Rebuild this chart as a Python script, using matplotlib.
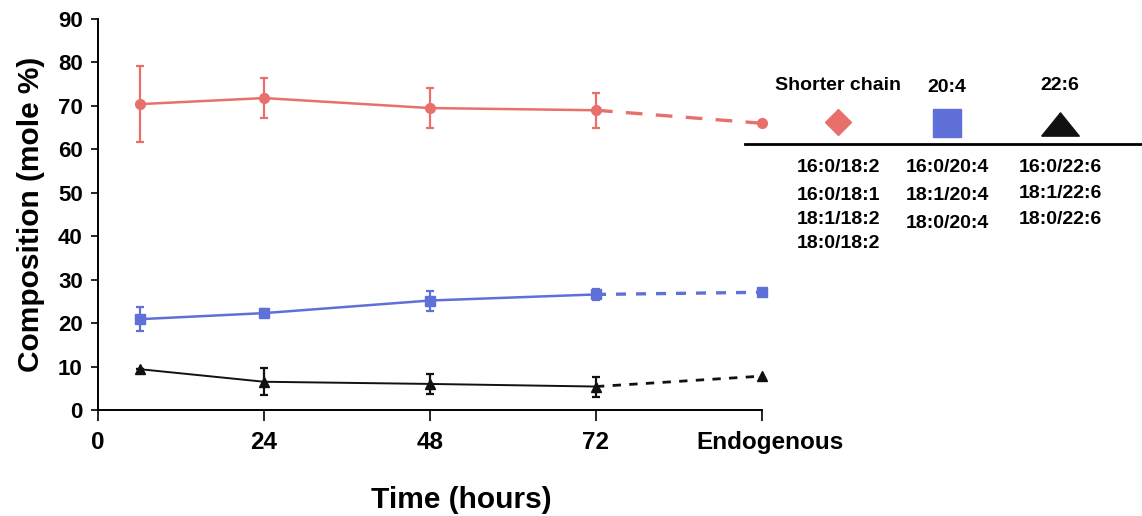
#!/usr/bin/env python3
# composition_time.py

import matplotlib
matplotlib.use("Agg")
import matplotlib.pyplot as plt
from matplotlib.lines import Line2D
from matplotlib.transforms import ScaledTranslation

plt.rcParams["font.family"] = ["Liberation Sans", "DejaVu Sans"]
plt.rcParams["font.weight"] = "bold"

# time points (hours) and the endogenous position on the x axis
hours = [6, 24, 48, 72]
endo_pos = 96
xtick_pos = [0, 24, 48, 72, 96]
xtick_labels = ["0", "24", "48", "72", "Endogenous"]

# mole % values
shorter = [70.4, 71.8, 69.5, 69.0]
shorter_err = [8.7, 4.6, 4.7, 4.0]
shorter_endo = 66.0

aa = [20.9, 22.3, 25.2, 26.6]
aa_err = [2.8, 1.0, 2.3, 1.2]
aa_endo = 27.1

dha = [9.4, 6.5, 6.0, 5.4]
dha_err = [0.0, 3.1, 2.4, 2.3]
dha_endo = 7.8

legend_heads = ["Shorter chain", "20:4", "22:6"]
legend_species = [
    ["16:0/18:2", "16:0/18:1", "18:1/18:2", "18:0/18:2"],
    ["16:0/20:4", "18:1/20:4", "18:0/20:4"],
    ["16:0/22:6", "18:1/22:6", "18:0/22:6"],
]

RED = "#e8706c"
BLUE = "#5f70d8"
BLACK = "#111111"

W, H = 1142, 516

# squat triangle like the one in the key
FLAT_TRI = [(-1, -0.62), (1, -0.62), (0, 0.62), (-1, -0.62)]


def plot_series(ax, y, err, endo, color, marker, ms, lw, dash):
    ax.errorbar(hours, y, yerr=err, color=color, marker=marker, ms=ms,
                lw=lw, elinewidth=1.6, capsize=3, capthick=1.6, zorder=3)
    ax.plot([hours[-1], endo_pos], [y[-1], endo], color=color, lw=lw + 0.6,
            ls=(0, dash), zorder=2)
    ax.plot([endo_pos], [endo], color=color, marker=marker, ms=ms,
            clip_on=False, zorder=3)


def draw_legend(fig):
    lax = fig.add_axes([0, 0, 1, 1])
    lax.set_xlim(0, W)
    lax.set_ylim(H, 0)
    lax.axis("off")
    lax.patch.set_alpha(0)

    cols_x = [838, 947, 1060]
    head_y = [85, 87, 86]
    markers = [("D", RED, 13), ("s", BLUE, 20), (FLAT_TRI, BLACK, 27)]
    marker_y = [122, 123, 124]
    rows_y = [[167, 195, 219, 244], [167, 195, 223], [167, 193, 219]]

    for i, x in enumerate(cols_x):
        lax.text(x, head_y[i], legend_heads[i], ha="center", va="center",
                 fontsize=14, fontweight="bold")
        m, c, s = markers[i]
        lax.plot([x], [marker_y[i]], marker=m, color=c, ms=s, ls="none")
        for j, name in enumerate(legend_species[i]):
            lax.text(x, rows_y[i][j], name, ha="center", va="center",
                     fontsize=14, fontweight="bold")

    lax.add_line(Line2D([745, W], [144, 144], color="black", lw=2))


def main():
    fig = plt.figure(figsize=(W / 100, H / 100), dpi=100)
    ax = fig.add_axes([98 / W, (H - 410) / H, (762 - 98) / W, (410 - 19) / H])

    plot_series(ax, shorter, shorter_err, shorter_endo, RED, "o", 7, 1.8, (5, 4))
    plot_series(ax, aa, aa_err, aa_endo, BLUE, "s", 6.5, 1.8, (3, 3))
    plot_series(ax, dha, dha_err, dha_endo, BLACK, "^", 7, 1.4, (3, 3))

    ax.set_xlim(0, 96)
    ax.set_ylim(0, 90)
    ax.set_xticks(xtick_pos)
    ax.set_xticklabels(xtick_labels)
    ax.set_yticks(range(0, 91, 10))
    ax.tick_params(axis="x", length=8, width=1.2, pad=7, labelsize=17.5)
    ax.tick_params(axis="y", length=5, width=1.2, pad=6, labelsize=16)

    # "Endogenous" sits a little right of its tick in the original
    endo_label = ax.get_xticklabels()[-1]
    endo_label.set_transform(endo_label.get_transform()
                             + ScaledTranslation(0.08, 0, fig.dpi_scale_trans))

    for s in ("top", "right"):
        ax.spines[s].set_visible(False)
    for s in ("left", "bottom"):
        ax.spines[s].set_linewidth(1.4)

    ax.set_xlabel("Time (hours)", fontsize=21.5, fontweight="bold")
    ax.xaxis.set_label_coords(0.547, -0.195)
    ax.set_ylabel("Composition (mole %)", fontsize=21.5, fontweight="bold",
                  labelpad=9)

    draw_legend(fig)

    fig.savefig("out.png", dpi=100)


if __name__ == "__main__":
    main()
